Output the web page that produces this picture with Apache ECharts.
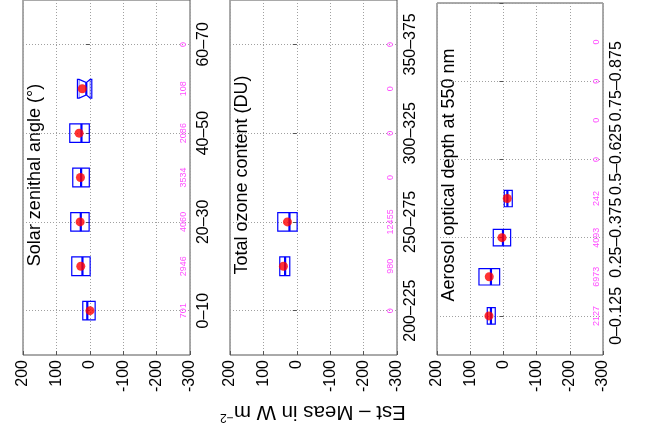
<!DOCTYPE html>
<html>
<head>
<meta charset="utf-8">
<script src="https://cdn.jsdelivr.net/npm/echarts@6/dist/echarts.min.js"></script>
<style>html,body{margin:0;padding:0;background:#fff}#c{width:651px;height:445px}</style>
</head>
<body>
<div id="c"></div>
<script>
// ---------- data ----------
const solarCats  = ['0–10','10–20','20–30','30–40','40–50','50–60','60–70'];
const solarQ3    = [21, 54, 57, 51, 60, 37, null];
const solarMed   = [7.5, 22, 27, 26, 25, 10.5, null];
const solarQ1    = [-16, -1, 2, 1.5, 1.5, -6, null];
const solarMean  = [-0.5, 27, 29, 28, 32, 22.5, null];
const solarNotchHi = [null, null, null, null, null, 32, null];
const solarNotchLo = [null, null, null, null, null, -1, null];
const solarCount = [701, 2946, 4060, 3534, 2086, 108, 0];

const ozoneCats  = ['200–225','225–250','250–275','275–300','300–325','325–350','350–375'];
const ozoneQ3    = [null, 51, 57, null, null, null, null];
const ozoneMed   = [null, 35, 22, null, null, null, null];
const ozoneQ1    = [null, 21, -1, null, null, null, null];
const ozoneMean  = [null, 40, 28, null, null, null, null];
const ozoneCount = [0, 980, 12455, 0, 0, 0, 0];

const aerosolCats  = ['0–0.125','0.125–0.25','0.25–0.375','0.375–0.5','0.5–0.625','0.625–0.75','0.75–0.875','0.875–1'];
const aerosolQ3    = [48.6, 73.6, 30.5, -2.6, null, null, null, null];
const aerosolMed   = [37.5, 37.5, 1.3, -12, null, null, null, null];
const aerosolQ1    = [24.5, 11.3, -21.8, -26.7, null, null, null, null];
const aerosolMean  = [43.5, 42.6, 4.3, -11.6, null, null, null, null];
const aerosolCount = [2127, 6973, 4093, 242, 0, 0, 0, 0];

const valueMin = -300, valueMax = 200, valueStep = 100;
const panelTitles = ['Solar zenithal angle (°)', 'Total ozone content (DU)', 'Aerosol optical depth at 550 nm'];
const yTitle = 'Est – Meas in W m';
const yTitleSup = '−2';

// ---------- layout / style ----------
const FONT = '"Liberation Sans", Arial, Helvetica, sans-serif';
const grids = [
  {left: 23,  top: -5, width: 167, height: 360},
  {left: 230, top: -5, width: 167, height: 360},
  {left: 437, top: -5, width: 166, height: 360}
];
const panels = [
  {cats: solarCats, q3: solarQ3, med: solarMed, q1: solarQ1, mean: solarMean, count: solarCount, nHi: solarNotchHi, nLo: solarNotchLo},
  {cats: ozoneCats, q3: ozoneQ3, med: ozoneMed, q1: ozoneQ1, mean: ozoneMean, count: ozoneCount},
  {cats: aerosolCats, q3: aerosolQ3, med: aerosolMed, q1: aerosolQ1, mean: aerosolMean, count: aerosolCount}
];
const BLUE = '#0000ff', RED = '#ff0000', MAGENTA = '#ff4dff', FRAME = '#555';

function boxRender(params, api) {
  const cat = api.value(0);
  const hi = api.value(1), med = api.value(2), lo = api.value(3);
  const nHi = api.value(4), nLo = api.value(5);
  const band = api.size([0, 1])[1];
  const h = band * 0.21;
  const pHi = api.coord([hi, cat]), pLo = api.coord([lo, cat]), pMed = api.coord([med, cat]);
  const y = pMed[1];
  const children = [];
  if (!isNaN(nHi) && !isNaN(nLo)) {
    const a = api.coord([nHi, cat])[0], b = api.coord([nLo, cat])[0];
    const w = h * 0.66;
    const pts = [[pHi[0], y - h], [a, y - h], [pMed[0], y - w], [b, y - h], [pLo[0], y - h],
           [pLo[0], y + h], [b, y + h], [pMed[0], y + w], [a, y + h], [pHi[0], y + h]];
    children.push({type: 'polygon', shape: {points: pts}, style: {fill: 'none', stroke: BLUE, lineWidth: 1.2}});
    children.push({type: 'line', shape: {x1: a, y1: y - h, x2: a, y2: y + h}, style: {stroke: BLUE, lineWidth: 0.8, opacity: 0.7}});
    children.push({type: 'line', shape: {x1: b, y1: y - h, x2: b, y2: y + h}, style: {stroke: BLUE, lineWidth: 0.8, opacity: 0.7}});
    children.push({type: 'line', shape: {x1: pMed[0], y1: y - w, x2: pMed[0], y2: y + w}, style: {stroke: BLUE, lineWidth: 2.2}});
  } else {
    children.push({type: 'rect', shape: {x: pHi[0], y: y - h, width: pLo[0] - pHi[0], height: 2 * h}, style: {fill: 'none', stroke: BLUE, lineWidth: 1.2}});
    children.push({type: 'line', shape: {x1: pMed[0], y1: y - h, x2: pMed[0], y2: y + h}, style: {stroke: BLUE, lineWidth: 2.2}});
  }
  return {type: 'group', children};
}

function countRender(params, api) {
  const cat = api.value(0);
  const p = api.coord([valueMin, cat]);
  return {
    type: 'text', x: p[0] - 6, y: p[1], rotation: Math.PI / 2,
    style: {text: String(api.value(1)), fill: MAGENTA, fontSize: 9, fontFamily: FONT, align: 'center', verticalAlign: 'middle'}
  };
}

const option = {
  animation: false,
  backgroundColor: '#fff',
  grid: grids.map(g => Object.assign({show: true, borderColor: FRAME, borderWidth: 1, backgroundColor: 'transparent', containLabel: false}, g)),
  xAxis: grids.map((g, i) => ({
    type: 'value', gridIndex: i, min: valueMin, max: valueMax, interval: valueStep, inverse: true, position: 'bottom',
    axisLine: {show: false},
    axisTick: {show: true, inside: true, length: 4, lineStyle: {color: FRAME}},
    axisLabel: {rotate: 90, margin: 5, fontSize: 16, color: '#000', fontFamily: FONT},
    splitLine: {show: true, lineStyle: {color: '#a0a0a0', type: [1, 2], width: 1}}
  })),
  yAxis: panels.map((p, i) => ({
    type: 'category', gridIndex: i, boundaryGap: false, position: 'right',
    data: [''].concat(p.cats, ['']),
    axisLine: {show: false},
    axisTick: {show: true, inside: true, length: 4, interval: (idx) => idx % 2 === 1, lineStyle: {color: FRAME}},
    axisLabel: {rotate: 90, margin: 6, fontSize: 16, color: '#000', fontFamily: FONT, interval: (idx) => idx % 2 === 1},
    splitLine: {show: true, interval: (idx) => idx % 2 === 1, lineStyle: {color: '#a0a0a0', type: [1, 2], width: 1}}
  })),
  series: [],
  graphic: []
};

panels.forEach((p, i) => {
  const boxData = [], meanData = [], countData = [];
  p.cats.forEach((c, k) => {
    const idx = k + 1;
    if (p.q3[k] != null) {
      boxData.push([idx, p.q3[k], p.med[k], p.q1[k],
        p.nHi && p.nHi[k] != null ? p.nHi[k] : NaN,
        p.nLo && p.nLo[k] != null ? p.nLo[k] : NaN]);
      meanData.push([p.mean[k], idx]);
    }
    countData.push([idx, p.count[k]]);
  });
  option.series.push({
    type: 'custom', xAxisIndex: i, yAxisIndex: i, renderItem: boxRender,
    encode: {x: [1, 2, 3], y: 0}, data: boxData, z: 3
  });
  option.series.push({
    type: 'scatter', xAxisIndex: i, yAxisIndex: i, symbol: 'circle', symbolSize: 9,
    itemStyle: {color: RED}, data: meanData, z: 5
  });
  option.series.push({
    type: 'custom', xAxisIndex: i, yAxisIndex: i, renderItem: countRender,
    encode: {y: 0}, data: countData, z: 4
  });
  const g = grids[i];
  option.graphic.push({
    type: 'text', x: g.left + 12, y: g.top + g.height / 2, rotation: Math.PI / 2,
    style: {text: panelTitles[i], fill: '#000', fontSize: 18, fontFamily: FONT, align: 'center', verticalAlign: 'middle'}
  });
});

option.graphic.push({
  type: 'text', x: 313, y: 412, rotation: Math.PI,
  style: {
    text: yTitle + '{sup|' + yTitleSup + '}', fill: '#000', fontSize: 20.5, fontFamily: FONT,
    align: 'center', verticalAlign: 'middle',
    rich: {sup: {fontSize: 12, fontFamily: FONT, fill: '#000', verticalAlign: 'top', padding: [0, 0, 10, 0]}}
  }
});

const chart = echarts.init(document.getElementById('c'), null, {renderer: 'canvas'});
chart.setOption(option);
</script>
</body>
</html>
